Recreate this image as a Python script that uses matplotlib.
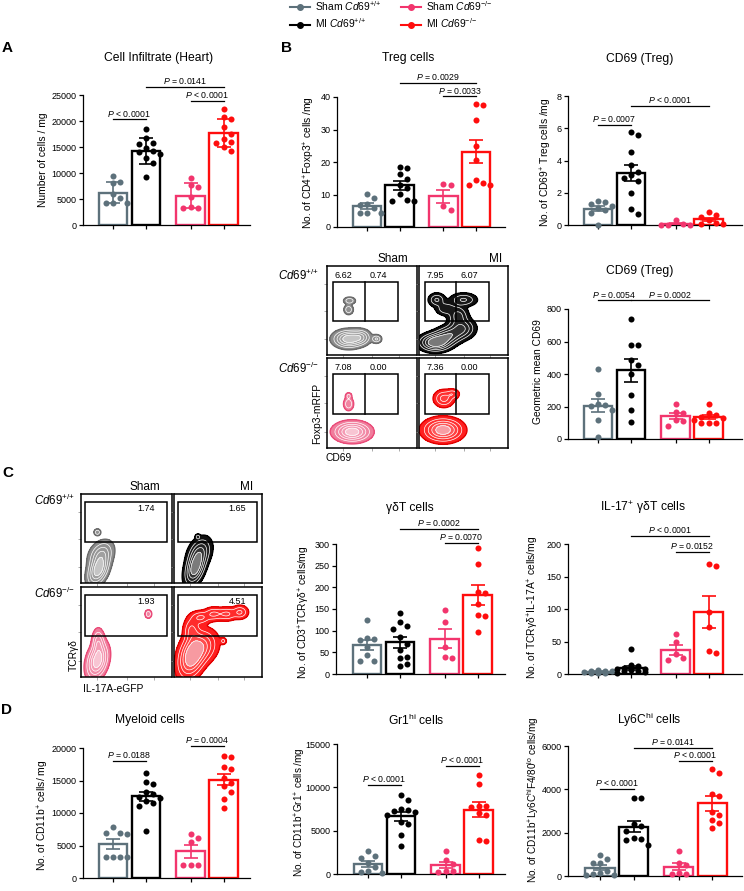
import numpy as np
import matplotlib
matplotlib.use('Agg')
import matplotlib.pyplot as plt
from matplotlib.lines import Line2D
from matplotlib.patches import Rectangle
from matplotlib.colors import LinearSegmentedColormap

plt.rcParams['font.family'] = ['Liberation Sans', 'DejaVu Sans']
plt.rcParams['mathtext.fontset'] = 'custom'
plt.rcParams['mathtext.rm'] = 'Liberation Sans'
plt.rcParams['mathtext.it'] = 'Liberation Sans:italic'
plt.rcParams['mathtext.bf'] = 'Liberation Sans:bold'

W, H = 744, 891
fig = plt.figure(figsize=(W / 100, H / 100), dpi=100)

# ---------------- data ----------------
groups = [r'Sham $\mathit{Cd69}^{+/{+}}$', r'MI $\mathit{Cd69}^{+/{+}}$',
          r'Sham $\mathit{Cd69}^{-/{-}}$', r'MI $\mathit{Cd69}^{-/{-}}$']
COLORS = ['#5d717b', '#000000', '#f2356d', '#ff0d0d']
POS = [0, 1, 2.35, 3.35]

infil_sham_wt = [9400, 8000, 8300, 6000, 4300, 4300, 4300, 5200]
infil_mi_wt = [18500, 16700, 15800, 15500, 14300, 14800, 14000, 13600, 12900, 12000, 9200]
infil_sham_ko = [9100, 7700, 7300, 5400, 3400, 3300, 3300]
infil_mi_ko = [22400, 20700, 20300, 18800, 17500, 16600, 16000, 15800, 15000, 14300]

treg_sham_wt = [10.2, 8.8, 7.2, 6.8, 5.8, 4.4, 4.2, 4.2]
treg_mi_wt = [18.6, 18.3, 16.3, 14.8, 13.0, 12.0, 10.2, 8.0, 8.1, 8.4]
treg_sham_ko = [13.1, 12.8, 5.3, 6.4]
treg_mi_ko = [37.5, 38.0, 33.0, 25.0, 20.6, 14.5, 13.0, 12.8, 13.5]

cd69_sham_wt = [1.5, 1.4, 1.3, 1.15, 1.05, 0.9, 0.75, 0.0]
cd69_mi_wt = [5.75, 5.6, 4.5, 3.7, 3.3, 3.1, 2.9, 2.7, 2.0, 1.0, 0.7]
cd69_sham_ko = [0.3, 0.05, 0.03, 0.03, 0.03]
cd69_mi_ko = [0.82, 0.6, 0.5, 0.3, 0.1, 0.05, 0.05]

gmfi_sham_wt = [433, 279, 215, 210, 205, 176, 119, 12]
gmfi_mi_wt = [741, 580, 578, 488, 457, 398, 273, 180, 105]
gmfi_sham_ko = [217, 165, 160, 120, 109, 80]
gmfi_mi_ko = [218, 160, 150, 135, 130, 120, 100, 98, 96]

gdt_sham_wt = [124, 83, 80, 79, 62, 45, 31, 30]
gdt_mi_wt = [141, 121, 110, 105, 85, 70, 55, 40, 38, 22, 18]
gdt_sham_ko = [147, 120, 63, 40, 38]
gdt_mi_ko = [291, 254, 190, 187, 162, 137, 135, 98]

il17_sham_wt = [6, 5, 4, 4, 3, 2, 2, 1]
il17_mi_wt = [38, 14, 12, 10, 8, 7, 6, 5, 4, 3, 2]
il17_sham_ko = [61, 49, 31, 24, 21]
il17_mi_ko = [170, 166, 96, 72, 35, 32]

mye_sham_wt = [7900, 7000, 6900, 6800, 3300, 3300, 3300, 3300]
mye_mi_wt = [16200, 14700, 14500, 13200, 13000, 12500, 12300, 11800, 11600, 11100, 7300]
mye_sham_ko = [6800, 6100, 5600, 2000, 2000, 2000]
mye_mi_ko = [18700, 18600, 17100, 16800, 15400, 14600, 14200, 13200, 12100, 10700]

gr1_sham_wt = [2700, 2100, 1900, 1300, 800, 300, 200, 100]
gr1_mi_wt = [9100, 8500, 7500, 7400, 7300, 7200, 6800, 6000, 5800, 4500, 3200]
gr1_sham_ko = [2600, 1600, 1200, 300, 200, 300]
gr1_mi_ko = [11400, 10400, 7900, 7800, 7700, 7000, 6800, 3900, 3800]

ly6c_sham_wt = [950, 800, 620, 580, 250, 120, 80, 60, 50]
ly6c_mi_wt = [3580, 3580, 2400, 2300, 2100, 1750, 1700, 1650, 1450]
ly6c_sham_ko = [1140, 620, 520, 150, 100, 100]
ly6c_mi_ko = [4950, 4750, 3800, 3700, 2950, 2800, 2600, 2450, 2200]

P_LT = r'$\mathit{P}$ < 0.0001'
def P_EQ(v):
    return r'$\mathit{P}$ = ' + v

# flow cytometry gate frequencies
b_flow_nums = [['6.62', '0.74'], ['7.95', '6.07'], ['7.08', '0.00'], ['7.36', '0.00']]
c_flow_nums = ['1.74', '1.65', '1.93', '4.51']

# flow population blobs: (cx, cy, sx, sy, tilt, weight) in panel fractions
b_blobs_sham_wt = [(0.24, 0.18, 0.085, 0.05, 0.0, 1.0), (0.37, 0.20, 0.06, 0.045, 0.0, 0.5),
                   (0.55, 0.18, 0.03, 0.025, 0.0, 0.35), (0.25, 0.61, 0.035, 0.022, 0.0, 0.3),
                   (0.24, 0.51, 0.028, 0.03, 0.0, 0.3)]
b_blobs_mi_wt = [(0.18, 0.14, 0.09, 0.05, 0.0, 1.0), (0.32, 0.21, 0.10, 0.06, 0.3, 0.75),
                 (0.48, 0.30, 0.08, 0.06, 0.0, 0.5), (0.44, 0.44, 0.06, 0.06, 0.0, 0.4),
                 (0.20, 0.62, 0.05, 0.04, 0.0, 0.35), (0.50, 0.62, 0.08, 0.04, 0.0, 0.35),
                 (0.30, 0.52, 0.06, 0.04, 0.0, 0.3)]
b_blobs_sham_ko = [(0.28, 0.18, 0.10, 0.055, 0.0, 1.0), (0.24, 0.49, 0.03, 0.04, 0.0, 0.3),
                   (0.24, 0.58, 0.02, 0.02, 0.0, 0.2)]
b_blobs_mi_ko = [(0.27, 0.20, 0.11, 0.065, 0.0, 1.0), (0.28, 0.55, 0.06, 0.05, 0.0, 0.4),
                 (0.38, 0.60, 0.04, 0.03, 0.0, 0.25)]
c_blobs_sham_wt = [(0.19, 0.15, 0.06, 0.09, 0.4, 1.0), (0.22, 0.32, 0.07, 0.08, 0.3, 0.5),
                   (0.18, 0.57, 0.02, 0.02, 0.0, 0.3)]
c_blobs_mi_wt = [(0.24, 0.17, 0.06, 0.10, 0.4, 1.0), (0.29, 0.34, 0.07, 0.09, 0.3, 0.55),
                 (0.27, 0.52, 0.015, 0.015, 0.0, 0.25)]
c_blobs_sham_ko = [(0.18, 0.18, 0.06, 0.10, 0.3, 1.0), (0.19, 0.38, 0.035, 0.08, 0.0, 0.45),
                   (0.74, 0.70, 0.02, 0.025, 0.0, 0.3)]
c_blobs_mi_ko = [(0.20, 0.22, 0.08, 0.12, 0.3, 1.0), (0.30, 0.33, 0.10, 0.10, 0.2, 0.6),
                 (0.20, 0.52, 0.05, 0.08, 0.0, 0.35), (0.30, 0.66, 0.06, 0.04, 0.0, 0.35),
                 (0.45, 0.70, 0.06, 0.04, 0.0, 0.35), (0.60, 0.70, 0.06, 0.04, 0.0, 0.35),
                 (0.75, 0.72, 0.05, 0.04, 0.0, 0.35), (0.56, 0.40, 0.02, 0.02, 0.0, 0.2)]

FLOW_GRAY = (['#8a8a8a', '#9c9c9c', '#b4b4b4', '#cccccc', '#dedede'], '#6a6a6a')
FLOW_BLACK = (['#0d0d0d', '#2e2e2e', '#5a5a5a', '#8a8a8a', '#b0b0b0'], '#000000')
FLOW_PINK = (['#f07a9a', '#f396b0', '#f6b3c6', '#f9ccd8', '#fbdfe6'], '#ea4a78')
FLOW_RED = (['#ff1a1a', '#ff4d4d', '#f77f86', '#f7aab0', '#f9c8cc'], '#e00000')


# ---------------- helpers ----------------
def px_axes(l, t, r, b):
    return fig.add_axes([l / W, 1 - b / H, (r - l) / W, (b - t) / H])


def ftext(x, y, s, **kw):
    return fig.text(x / W, 1 - y / H, s, **kw)


def swarm(v, ppy, unit, d=7.2):
    order = np.argsort(-v)
    placed = []
    offs = np.zeros(len(v))
    cands = [0, 1, -1, 2, -2]
    for i in order:
        yp = v[i] * ppy
        best, bestd = 0.0, -1.0
        for c in cands:
            xo = c * d
            md = min([np.hypot(xo - a, yp - b) for a, b in placed] + [1e9])
            if md >= d:
                best = xo
                break
            if md > bestd:
                best, bestd = xo, md
        placed.append((best, yp))
        offs[i] = best / unit
    return offs


def bar_panel(geom, data, ymax, ystep, sigs, err='sem'):
    spine, right, ytop, y0, bar0, unit = geom
    ax = px_axes(spine, ytop, right, y0)
    xl = -(bar0 - spine) / unit
    xr = xl + (right - spine) / unit
    ax.set_xlim(xl, xr)
    ax.set_ylim(0, ymax)
    ppy = (y0 - ytop) / ymax
    for k, vals in enumerate(data):
        v = np.array(vals, float)
        m = v.mean()
        e = v.std(ddof=1)
        if err == 'sem':
            e = e / np.sqrt(len(v))
        x = POS[k]
        c = COLORS[k]
        ax.bar(x, m, width=0.87, facecolor='white', edgecolor=c, linewidth=1.7, zorder=2)
        offs = swarm(v, ppy, unit)
        ax.scatter(x + offs, v, s=19, color=c, zorder=3, linewidths=0, clip_on=False)
        ax.errorbar(x, m, yerr=e, color=c, capsize=4.8, elinewidth=1.2, capthick=1.2,
                    zorder=4, clip_on=False)
    for i, j, y, txt in sigs:
        ax.plot([POS[i], POS[j]], [y, y], color='k', lw=0.9, clip_on=False)
        ax.annotate(txt, ((POS[i] + POS[j]) / 2, y), xytext=(0, 0.6), textcoords='offset points',
                    ha='center', va='bottom', fontsize=6.3, annotation_clip=False)
    ax.set_yticks(np.arange(0, ymax + ystep / 2, ystep))
    ax.set_xticks(POS)
    ax.set_xticklabels([])
    ax.tick_params(axis='y', direction='out', length=3, width=0.9, labelsize=6.5, pad=1.5)
    ax.tick_params(axis='x', direction='out', length=3, width=0.9)
    for s in ['top', 'right']:
        ax.spines[s].set_visible(False)
    for s in ['left', 'bottom']:
        ax.spines[s].set_linewidth(0.9)
    return ax


def flow_panel(rect, blobs, style, nums, two_gate):
    l, t, r, b = rect
    ax = px_axes(l, t, r, b)
    ax.set_xlim(0, 1)
    ax.set_ylim(0, 1)
    g = np.linspace(0, 1, 260)
    X, Y = np.meshgrid(g, g)
    Z = np.zeros_like(X)
    for cx, cy, sx, sy, rho, w in blobs:
        dx = (X - cx) / sx
        dy = (Y - cy) / sy
        q = (dx * dx - 2 * rho * dx * dy + dy * dy) / (1 - rho * rho)
        Z += w * np.exp(-0.5 * q)
    levels = [0.05, 0.16, 0.32, 0.52, 0.76]
    cols, edge = style
    cmap = LinearSegmentedColormap.from_list('flow', cols)
    ax.contourf(X, Y, Z, levels=levels + [max(Z.max(), 1.0) + 1], cmap=cmap, zorder=1)
    ax.contour(X, Y, Z, levels=levels[1:], colors='white', linewidths=0.5, zorder=2)
    ax.contour(X, Y, Z, levels=levels[:1], colors=edge, linewidths=1.0, zorder=2)
    if two_gate:
        x0, x1, xs, y0, y1 = 0.067, 0.79, 0.42, 0.38, 0.82
        ax.add_patch(Rectangle((x0, y0), x1 - x0, y1 - y0, fill=False, ec='k', lw=1.1, zorder=3))
        ax.plot([xs, xs], [y0, y1], color='k', lw=1.1, zorder=3)
        ax.text(0.18, 0.895, nums[0], ha='center', va='center', fontsize=6.5)
        ax.text(0.57, 0.895, nums[1], ha='center', va='center', fontsize=6.5)
    else:
        x0, x1, y0, y1 = 0.045, 0.945, 0.46, 0.91
        ax.add_patch(Rectangle((x0, y0), x1 - x0, y1 - y0, fill=False, ec='k', lw=1.1, zorder=3))
        ax.text(0.72, 0.84, nums, ha='center', va='center', fontsize=6.5)
    ax.set_xticks([0.18, 0.5, 0.8])
    ax.set_yticks([0.18, 0.5, 0.8])
    ax.set_xticklabels([])
    ax.set_yticklabels([])
    ax.tick_params(direction='out', length=2, width=0.5, colors='#888888')
    for s in ax.spines.values():
        s.set_linewidth(1.1)
    return ax


def title(x, y, s):
    ftext(x, y, s, ha='center', va='center', fontsize=8.7)


def ylab(x, y, s, fs=7.4):
    ftext(x, y, s, ha='center', va='center', rotation=90, fontsize=fs)


def letter(x, y, s):
    ftext(x, y, s, ha='center', va='center', fontsize=11, fontweight='bold')


# ---------------- legend ----------------
handles = [Line2D([], [], color=c, marker='o', markersize=4, lw=1.5) for c in COLORS]
fig.legend(handles, groups, ncol=2, loc='upper left', bbox_to_anchor=(290 / W, 1 + 1 / H),
           frameon=False, fontsize=7.4, handlelength=1.9, handletextpad=0.5,
           columnspacing=2.0, labelspacing=0.35, borderaxespad=0, borderpad=0)

# ---------------- A ----------------
letter(7, 48, 'A')
title(159, 58, 'Cell Infiltrate (Heart)')
ylab(43, 160, 'Number of cells / mg')
bar_panel((83, 250, 95, 225, 113, 33),
          [infil_sham_wt, infil_mi_wt, infil_sham_ko, infil_mi_ko], 25000, 5000,
          [(0, 1, 20300, P_LT), (1, 3, 26600, P_EQ('0.0141')), (2, 3, 23800, P_LT)], err='sd')

# ---------------- B ----------------
letter(287, 48, 'B')
title(408, 58, 'Treg cells')
ylab(309, 163, r'No. of CD4$^{+}$Foxp3$^{+}$ cells /mg')
bar_panel((337, 505, 97, 227, 367, 32.5),
          [treg_sham_wt, treg_mi_wt, treg_sham_ko, treg_mi_ko], 40, 10,
          [(1, 3, 44.4, P_EQ('0.0029')), (2, 3, 40.2, P_EQ('0.0033'))])

title(640, 59, 'CD69 (Treg)')
ylab(546, 162, r'No. of CD69$^{+}$ Treg cells /mg')
bar_panel((568, 742, 96, 225, 598, 33),
          [cd69_sham_wt, cd69_mi_wt, cd69_sham_ko, cd69_mi_ko], 8, 2,
          [(0, 1, 6.19, P_EQ('0.0007')), (1, 3, 7.36, P_LT)])

title(640, 271, 'CD69 (Treg)')
ylab(538, 372, 'Geometric mean CD69')
bar_panel((568, 742, 309, 439, 598, 33),
          [gmfi_sham_wt, gmfi_mi_wt, gmfi_sham_ko, gmfi_mi_ko], 800, 200,
          [(0, 1, 853, P_EQ('0.0054')), (1, 3, 853, P_EQ('0.0002'))])

# B flow plots
ftext(393, 259, 'Sham', ha='center', va='center', fontsize=8.5)
ftext(496, 259, 'MI', ha='center', va='center', fontsize=8.5)
ftext(278, 275, r'$\mathit{Cd69}^{+/{+}}$', ha='left', va='center', fontsize=8.3)
ftext(278, 368, r'$\mathit{Cd69}^{-/{-}}$', ha='left', va='center', fontsize=8.3)
ftext(317, 413, 'Foxp3-mRFP', ha='center', va='center', rotation=90, fontsize=7.4)
ftext(326, 458, 'CD69', ha='left', va='center', fontsize=7.4)
flow_panel((327, 266, 417, 355), b_blobs_sham_wt, FLOW_GRAY, b_flow_nums[0], True)
flow_panel((419, 266, 508, 355), b_blobs_mi_wt, FLOW_BLACK, b_flow_nums[1], True)
flow_panel((327, 358, 417, 448), b_blobs_sham_ko, FLOW_PINK, b_flow_nums[2], True)
flow_panel((419, 358, 508, 448), b_blobs_mi_ko, FLOW_RED, b_flow_nums[3], True)

# ---------------- C ----------------
letter(8, 473, 'C')
ftext(145, 487, 'Sham', ha='center', va='center', fontsize=8.5)
ftext(247, 487, 'MI', ha='center', va='center', fontsize=8.5)
ftext(34, 500, r'$\mathit{Cd69}^{+/{+}}$', ha='left', va='center', fontsize=8.3)
ftext(34, 593, r'$\mathit{Cd69}^{-/{-}}$', ha='left', va='center', fontsize=8.3)
ftext(74, 655, 'TCRγδ', ha='center', va='center', rotation=90, fontsize=7.4)
ftext(83, 689, 'IL-17A-eGFP', ha='left', va='center', fontsize=7.4)
flow_panel((81, 494, 172, 583), c_blobs_sham_wt, FLOW_GRAY, c_flow_nums[0], False)
flow_panel((174, 494, 262, 583), c_blobs_mi_wt, FLOW_BLACK, c_flow_nums[1], False)
flow_panel((81, 587, 172, 677), c_blobs_sham_ko, FLOW_PINK, c_flow_nums[2], False)
flow_panel((174, 587, 262, 677), c_blobs_mi_ko, FLOW_RED, c_flow_nums[3], False)

title(410, 508, 'γδT cells')
ylab(304, 612, r'No. of CD3$^{+}$TCRγδ$^{+}$ cells/mg')
bar_panel((336, 505, 544, 674, 367, 33),
          [gdt_sham_wt, gdt_mi_wt, gdt_sham_ko, gdt_mi_ko], 300, 50,
          [(1, 3, 335, P_EQ('0.0002')), (2, 3, 302, P_EQ('0.0070'))])

title(643, 508, r'IL-17$^{+}$ γδT cells')
ylab(533, 607, r'No. of TCRγδ$^{+}$IL-17A$^{+}$ cells/mg')
bar_panel((568, 742, 544, 674, 598, 33),
          [il17_sham_wt, il17_mi_wt, il17_sham_ko, il17_mi_ko], 200, 50,
          [(1, 3, 213, P_LT), (2, 3, 188, P_EQ('0.0152'))])

# ---------------- D ----------------
letter(7, 710, 'D')
title(150, 720, 'Myeloid cells')
ylab(43, 815, r'No. of CD11b$^{+}$ cells/ mg')
bar_panel((83, 250, 748, 878, 113, 33),
          [mye_sham_wt, mye_mi_wt, mye_sham_ko, mye_mi_ko], 20000, 5000,
          [(0, 1, 18050, P_EQ('0.0188')), (2, 3, 20260, P_EQ('0.0004'))])

title(416, 720, r'Gr1$^{\mathrm{hi}}$ cells')
ylab(300, 812, r'No. of CD11b$^{+}$Gr1$^{+}$ cells /mg', fs=7.2)
bar_panel((337, 505, 744, 874, 368, 33),
          [gr1_sham_wt, gr1_mi_wt, gr1_sham_ko, gr1_mi_ko], 15000, 5000,
          [(0, 1, 10300, P_LT), (2, 3, 12500, P_LT)])

title(649, 720, r'Ly6C$^{\mathrm{hi}}$ cells')
ylab(533, 800, r'No. of CD11b$^{+}$Ly6C$^{\mathrm{hi}}$F4/80$^{\mathrm{lo}}$ cells/mg', fs=7.2)
bar_panel((568, 742, 746, 876, 600, 33.5),
          [ly6c_sham_wt, ly6c_mi_wt, ly6c_sham_ko, ly6c_mi_ko], 6000, 2000,
          [(0, 1, 4010, P_LT), (1, 3, 5900, P_EQ('0.0141')), (2, 3, 5320, P_LT)])

fig.savefig('out.png', dpi=100)
